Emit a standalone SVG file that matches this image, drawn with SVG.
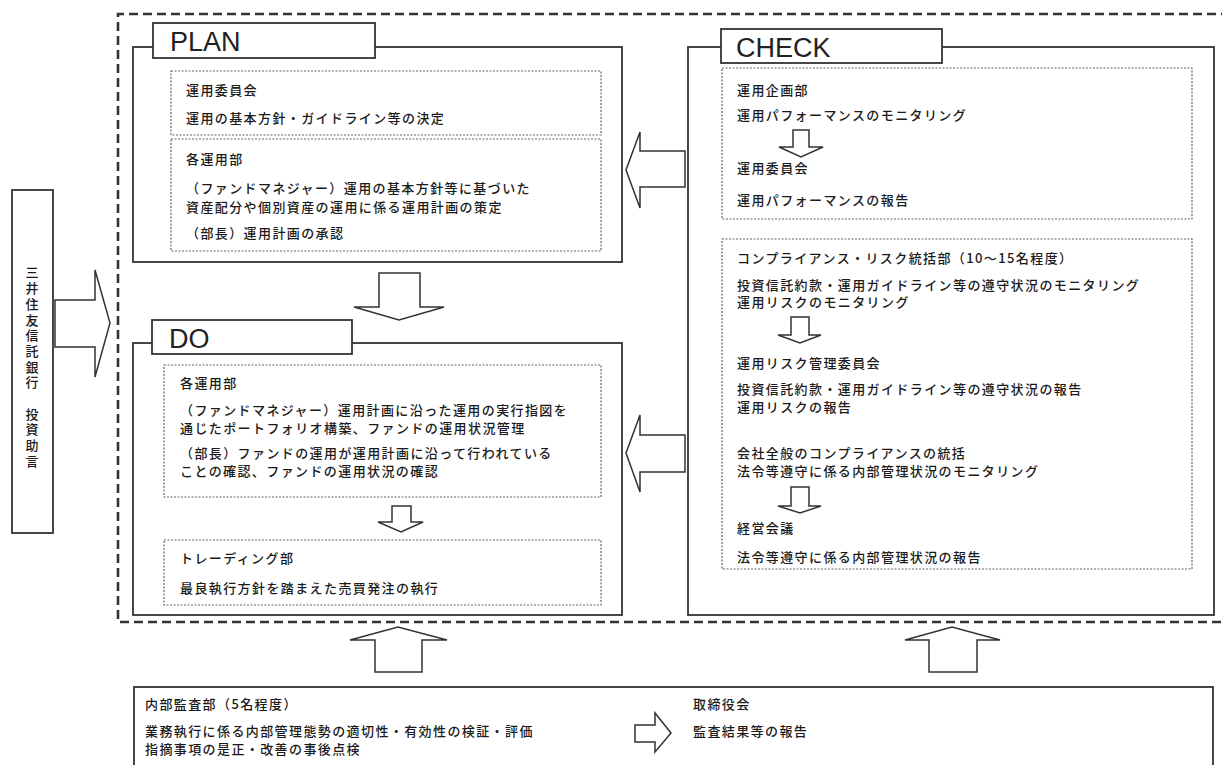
<svg xmlns="http://www.w3.org/2000/svg" width="1222" height="765" viewBox="0 0 1222 765">
<style>
.frame{fill:none;stroke:#333;stroke-width:1.8}
.lbl{fill:#fff;stroke:#333;stroke-width:1.8}
.inner{fill:none;stroke:#666;stroke-width:1.2;stroke-dasharray:2 1.5}
.outer{fill:none;stroke:#333;stroke-width:2.6;stroke-dasharray:9 5}
.arr{fill:#fff;stroke:#333;stroke-width:1.5;stroke-linejoin:miter}
.head{font-family:"Liberation Sans",Arial,sans-serif;font-size:27px;fill:#222}
.t{font-family:"Noto Sans CJK JP","Noto Sans CJK SC",sans-serif;font-size:13px;font-weight:500;letter-spacing:1.4px;fill:#1a1a1a}
.v{font-family:"Noto Sans CJK JP","Noto Sans CJK SC",sans-serif;font-size:13px;font-weight:500;letter-spacing:2.7px;fill:#1a1a1a;writing-mode:vertical-rl;text-orientation:upright}
</style>
<rect width="1222" height="765" fill="#fff"/>

<path class="outer" d="M1230,14 H118 V622 H1230"/>

<g id="advisor">
<rect class="frame" x="12" y="190" width="41" height="343"/>
<text class="v" x="32" y="266">三井住友信託銀行　投資助言</text>
</g>

<g id="plan">
<rect class="frame" x="133" y="47" width="489" height="215"/>
<rect class="lbl" x="153" y="23" width="222" height="35"/>
<text class="head" x="170" y="51">PLAN</text>
<rect class="inner" x="171" y="71" width="430" height="64"/>
<rect class="inner" x="171" y="139" width="430" height="112"/>
<text class="t" x="186" y="95">運用委員会</text>
<text class="t" x="186" y="123">運用の基本方針・ガイドライン等の決定</text>
<text class="t" x="186" y="164">各運用部</text>
<text class="t" x="186" y="193">（ファンドマネジャー）運用の基本方針等に基づいた</text>
<text class="t" x="186" y="212">資産配分や個別資産の運用に係る運用計画の策定</text>
<text class="t" x="186" y="238">（部長）運用計画の承認</text>
</g>

<g id="do">
<rect class="frame" x="133" y="343" width="489" height="272"/>
<rect class="lbl" x="152" y="320" width="200" height="34"/>
<text class="head" x="169" y="348">DO</text>
<rect class="inner" x="164" y="365" width="437" height="132"/>
<text class="t" x="180" y="388">各運用部</text>
<text class="t" x="180" y="415">（ファンドマネジャー）運用計画に沿った運用の実行指図を</text>
<text class="t" x="180" y="433">通じたポートフォリオ構築、ファンドの運用状況管理</text>
<text class="t" x="180" y="458">（部長）ファンドの運用が運用計画に沿って行われている</text>
<text class="t" x="180" y="476">ことの確認、ファンドの運用状況の確認</text>
<rect class="inner" x="164" y="540" width="437" height="65"/>
<text class="t" x="180" y="563">トレーディング部</text>
<text class="t" x="180" y="593">最良執行方針を踏まえた売買発注の執行</text>
</g>

<g id="check">
<rect class="frame" x="688" y="47" width="526" height="568"/>
<rect class="lbl" x="721" y="29" width="221" height="34"/>
<text class="head" x="736" y="57">CHECK</text>
<rect class="inner" x="722" y="68" width="470" height="151"/>
<text class="t" x="737" y="95">運用企画部</text>
<text class="t" x="737" y="120">運用パフォーマンスのモニタリング</text>
<text class="t" x="737" y="173">運用委員会</text>
<text class="t" x="737" y="205">運用パフォーマンスの報告</text>
<rect class="inner" x="722" y="239" width="470" height="330"/>
<text class="t" x="737" y="263">コンプライアンス・リスク統括部（10～15名程度）</text>
<text class="t" x="737" y="290">投資信託約款・運用ガイドライン等の遵守状況のモニタリング</text>
<text class="t" x="737" y="307">運用リスクのモニタリング</text>
<text class="t" x="737" y="368">運用リスク管理委員会</text>
<text class="t" x="737" y="394">投資信託約款・運用ガイドライン等の遵守状況の報告</text>
<text class="t" x="737" y="412">運用リスクの報告</text>
<text class="t" x="737" y="458">会社全般のコンプライアンスの統括</text>
<text class="t" x="737" y="476">法令等遵守に係る内部管理状況のモニタリング</text>
<text class="t" x="737" y="533">経営会議</text>
<text class="t" x="737" y="562">法令等遵守に係る内部管理状況の報告</text>
</g>

<g id="audit">
<rect class="frame" x="134" y="687" width="1079" height="90"/>
<text class="t" x="145" y="709">内部監査部（5名程度）</text>
<text class="t" x="145" y="736">業務執行に係る内部管理態勢の適切性・有効性の検証・評価</text>
<text class="t" x="145" y="754">指摘事項の是正・改善の事後点検</text>
<text class="t" x="693" y="709">取締役会</text>
<text class="t" x="693" y="736">監査結果等の報告</text>
</g>

<g id="connectors">
<polygon class="arr" points="55,300 95,300 95,270 110,323 95,377 95,347 55,347"/>
<polygon class="arr" points="685,151 640,151 640,132 626,170 640,208 640,187 685,187"/>
<polygon class="arr" points="685,435 640,435 640,415 626,453 640,492 640,472 685,472"/>
<polygon class="arr" points="379,273 420,273 420,307 444,307 399,320 354,307 379,307"/>
<polygon class="arr" points="392,506 411,506 411,522 423,522 401,532 378,522 392,522"/>
<polygon class="arr" points="793,130 809,130 809,147 823,147 801,157 779,147 793,147"/>
<polygon class="arr" points="791,317 809,317 809,335 821,335 800,343 778,335 791,335"/>
<polygon class="arr" points="791,487 809,487 809,506 821,506 800,513 778,506 791,506"/>
<polygon class="arr" points="375,672 422,672 422,640 447,640 398,627 350,640 375,640"/>
<polygon class="arr" points="929,672 977,672 977,640 1000,640 952,627 905,640 929,640"/>
<polygon class="arr" points="635,725 655,725 655,713 671,733 655,752 655,742 635,742"/>
</g>
</svg>
